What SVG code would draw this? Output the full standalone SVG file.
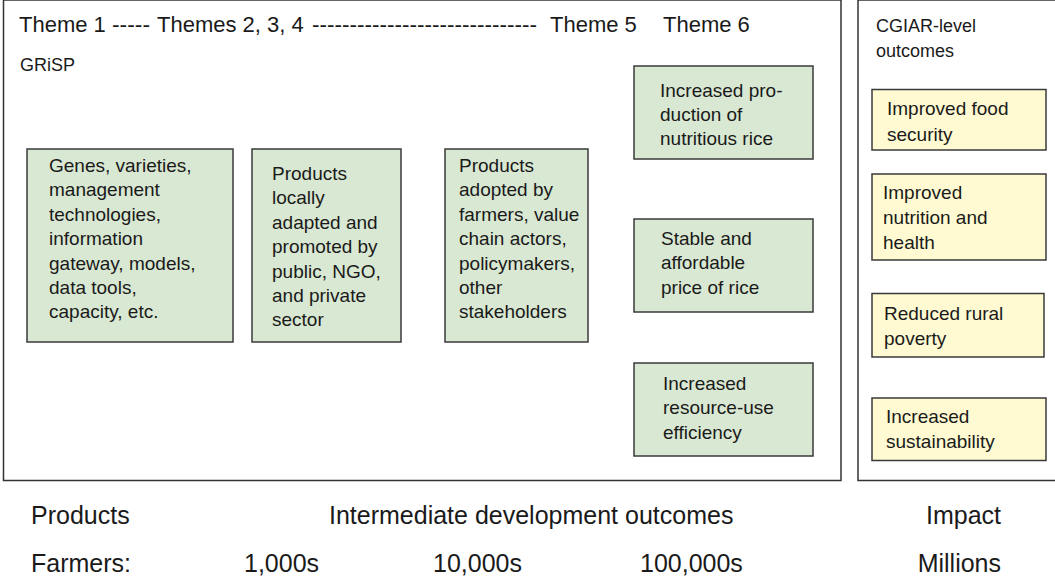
<svg xmlns="http://www.w3.org/2000/svg" width="1055" height="582" viewBox="0 0 1055 582">
<style>
text{font-family:"Liberation Sans",Arial,sans-serif;fill:#1a1a1a}
.frame{fill:#fff;stroke:#333;stroke-width:1.5}
.g{fill:#d9e8d2;stroke:#3a3a3a;stroke-width:1.5}
.y{fill:#fffad2;stroke:#3a3a3a;stroke-width:1.5}
.t{font-size:19px}
.h{font-size:22px}
.s{font-size:18px}
.b{font-size:25px}
</style>
<rect width="1055" height="582" fill="#fff"/>
<g id="frames">
<rect class="frame" x="3.5" y="0" width="837.5" height="480.5"/>
<rect class="frame" x="858" y="0" width="210" height="480.5"/>
</g>
<g id="header">
<text class="h" x="19" y="32">Theme 1</text>
<text class="h" x="112" y="32" textLength="38" lengthAdjust="spacingAndGlyphs">-----</text>
<text class="h" x="157" y="32">Themes 2, 3, 4</text>
<text class="h" x="312" y="32" textLength="225" lengthAdjust="spacingAndGlyphs">------------------------------</text>
<text class="h" x="550" y="32">Theme 5</text>
<text class="h" x="663" y="32">Theme 6</text>
<text class="s" x="20" y="71">GRiSP</text>
<text class="s" x="876" y="32">CGIAR-level</text>
<text class="s" x="876" y="57">outcomes</text>
</g>
<g id="n1">
<rect class="g" x="27" y="149" width="206" height="193"/>
<text class="t" x="49" y="172">Genes, varieties,</text>
<text class="t" x="49" y="196.4">management</text>
<text class="t" x="49" y="220.8">technologies,</text>
<text class="t" x="49" y="245.2">information</text>
<text class="t" x="49" y="269.6">gateway, models,</text>
<text class="t" x="49" y="294">data tools,</text>
<text class="t" x="49" y="318.4">capacity, etc.</text>
</g>
<g id="n2">
<rect class="g" x="252" y="149" width="149" height="193"/>
<text class="t" x="272" y="180">Products</text>
<text class="t" x="272" y="204.4">locally</text>
<text class="t" x="272" y="228.8">adapted and</text>
<text class="t" x="272" y="253.2">promoted by</text>
<text class="t" x="272" y="277.6">public, NGO,</text>
<text class="t" x="272" y="302">and private</text>
<text class="t" x="272" y="326.4">sector</text>
</g>
<g id="n3">
<rect class="g" x="445" y="149" width="143" height="193"/>
<text class="t" x="459" y="172">Products</text>
<text class="t" x="459" y="196.4">adopted by</text>
<text class="t" x="459" y="220.8">farmers, value</text>
<text class="t" x="459" y="245.2">chain actors,</text>
<text class="t" x="459" y="269.6">policymakers,</text>
<text class="t" x="459" y="294">other</text>
<text class="t" x="459" y="318.4">stakeholders</text>
</g>
<g id="n4">
<rect class="g" x="634" y="66" width="179" height="93"/>
<text class="t" x="660" y="96.5">Increased pro-</text>
<text class="t" x="660" y="120.5">duction of</text>
<text class="t" x="660" y="144.5">nutritious rice</text>
</g>
<g id="n5">
<rect class="g" x="634" y="219" width="179" height="93"/>
<text class="t" x="661" y="245">Stable and</text>
<text class="t" x="661" y="269.4">affordable</text>
<text class="t" x="661" y="293.8">price of rice</text>
</g>
<g id="n6">
<rect class="g" x="634" y="363" width="179" height="93"/>
<text class="t" x="663" y="390">Increased</text>
<text class="t" x="663" y="414.4">resource-use</text>
<text class="t" x="663" y="438.8">efficiency</text>
</g>
<g id="o1">
<rect class="y" x="872" y="89.5" width="174" height="60.5"/>
<text class="t" x="887" y="115">Improved food</text>
<text class="t" x="887" y="141">security</text>
</g>
<g id="o2">
<rect class="y" x="872" y="174" width="174" height="86"/>
<text class="t" x="883" y="199">Improved</text>
<text class="t" x="883" y="224">nutrition and</text>
<text class="t" x="883" y="249">health</text>
</g>
<g id="o3">
<rect class="y" x="872" y="293.5" width="172" height="63.5"/>
<text class="t" x="884" y="320">Reduced rural</text>
<text class="t" x="884" y="345">poverty</text>
</g>
<g id="o4">
<rect class="y" x="872" y="398" width="174" height="62.5"/>
<text class="t" x="886" y="423">Increased</text>
<text class="t" x="886" y="448">sustainability</text>
</g>
<g id="connectors"></g>
<g id="footer">
<text class="b" x="31" y="524">Products</text>
<text class="b" x="329" y="524">Intermediate development outcomes</text>
<text class="b" x="1001" y="524" text-anchor="end">Impact</text>
<text class="b" x="31" y="572">Farmers:</text>
<text class="b" x="244" y="572">1,000s</text>
<text class="b" x="433" y="572">10,000s</text>
<text class="b" x="640" y="572">100,000s</text>
<text class="b" x="1001" y="572" text-anchor="end">Millions</text>
</g>
</svg>
